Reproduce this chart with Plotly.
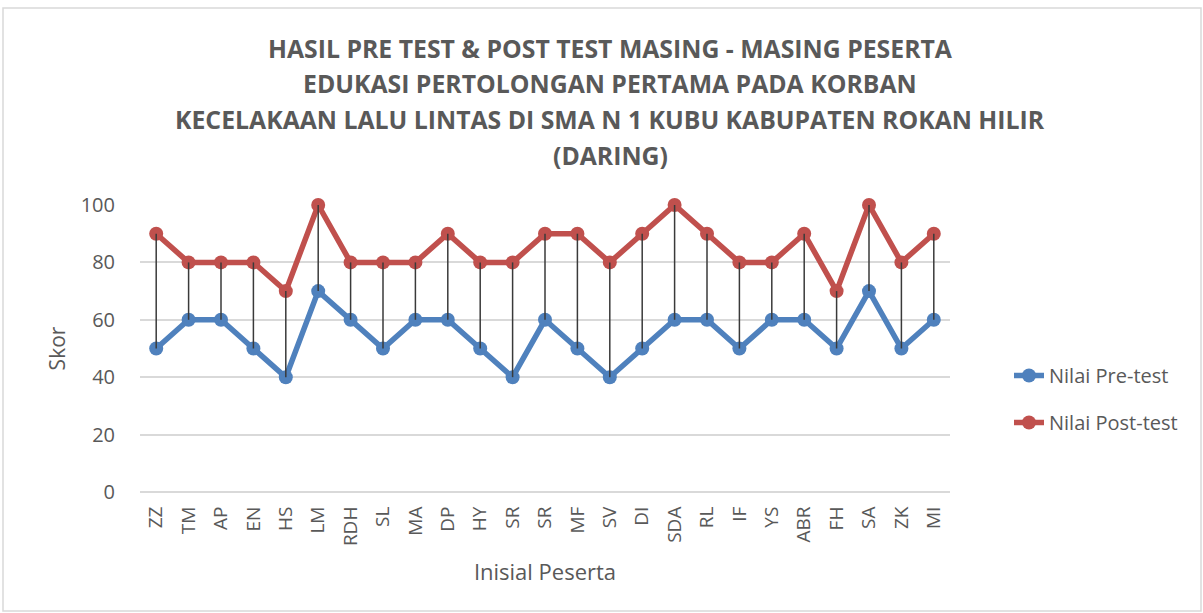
import plotly.graph_objects as go

categories = ["ZZ", "TM", "AP", "EN", "HS", "LM", "RDH", "SL", "MA", "DP", "HY", "SR", "SR",
              "MF", "SV", "DI", "SDA", "RL", "IF", "YS", "ABR", "FH", "SA", "ZK", "MI"]
pre_test = [50, 60, 60, 50, 40, 70, 60, 50, 60, 60, 50, 40, 60, 50, 40, 50, 60, 60, 50, 60, 60, 50, 70, 50, 60]
post_test = [90, 80, 80, 80, 70, 100, 80, 80, 80, 90, 80, 80, 90, 90, 80, 90, 100, 90, 80, 80, 90, 70, 100, 80, 90]
y_ticks = [0, 20, 40, 60, 80, 100]
title_lines = [
    "HASIL PRE TEST & POST TEST MASING - MASING PESERTA",
    "EDUKASI PERTOLONGAN PERTAMA PADA KORBAN",
    "KECELAKAAN LALU LINTAS DI SMA N 1 KUBU KABUPATEN ROKAN HILIR",
    "(DARING)",
]

x = list(range(len(categories)))
FONT = "Open Sans"
GRAY = "#595959"

fig = go.Figure()
fig.add_trace(go.Scatter(x=x, y=pre_test, mode="lines+markers", name="Nilai Pre-test",
                         legendgroup="pre", cliponaxis=False,
                         line=dict(color="#4F81BD", width=5.5),
                         marker=dict(color="#4F81BD", size=14)))
fig.add_trace(go.Scatter(x=x, y=post_test, mode="lines+markers", name="Nilai Post-test",
                         legendgroup="post", cliponaxis=False,
                         line=dict(color="#C0504D", width=5.5),
                         marker=dict(color="#C0504D", size=14)))

hx, hy = [], []
for i, (a, b) in enumerate(zip(pre_test, post_test)):
    hx += [i, i, None]
    hy += [a, b, None]
fig.add_trace(go.Scatter(x=hx, y=hy, mode="lines", showlegend=False, hoverinfo="skip",
                         cliponaxis=False, line=dict(color="#3a3a3a", width=1.5)))

L, R, T, B = 140, 253, 205, 121
W, H = 1203, 613
pw, ph = W - L - R, H - T - B

annotations = []
title_ys = [48, 83, 119, 155]
for txt, yy in zip(title_lines, title_ys):
    annotations.append(dict(text="<b>" + txt + "</b>", xref="paper", yref="paper",
                            x=(610 - L) / pw, y=(H - B - yy) / ph, xanchor="center", yanchor="middle",
                            showarrow=False, font=dict(family=FONT, size=24.8, color=GRAY)))

fig.update_layout(
    width=W, height=H,
    margin=dict(l=L, r=R, t=T, b=B),
    paper_bgcolor="white", plot_bgcolor="white",
    font=dict(family=FONT, color=GRAY),
    showlegend=True,
    legend=dict(x=(1009 - L) / pw, y=(H - B - 356) / ph, xanchor="left", yanchor="top",
                font=dict(family=FONT, size=20, color=GRAY), tracegroupgap=18,
                bgcolor="rgba(0,0,0,0)"),
    annotations=annotations,
    shapes=[dict(type="rect", xref="paper", yref="paper",
                 x0=(3 - L) / pw, x1=(1201 - L) / pw,
                 y0=(H - B - 611) / ph, y1=(H - B - 8) / ph,
                 line=dict(color="#D9D9D9", width=1.5), fillcolor="rgba(0,0,0,0)", layer="below")],
)
fig.update_xaxes(range=[-0.5, len(categories) - 0.5], tickmode="array", tickvals=x, ticktext=categories,
                 tickangle=-90, tickfont=dict(family=FONT, size=19, color=GRAY),
                 showgrid=False, zeroline=False, showline=False,
                 ticks="outside", ticklen=6, tickcolor="rgba(0,0,0,0)",
                 title=dict(text="Inisial Peserta", font=dict(family=FONT, size=22, color=GRAY), standoff=19))
fig.update_yaxes(range=[0, 100], tickvals=y_ticks, tickfont=dict(family=FONT, size=20, color=GRAY),
                 showgrid=True, gridcolor="#D9D9D9", gridwidth=1.5, zeroline=True, zerolinecolor="#D9D9D9",
                 zerolinewidth=1.5, showline=False,
                 ticks="outside", ticklen=20, tickcolor="rgba(0,0,0,0)",
                 title=dict(text="Skor", font=dict(family=FONT, size=21, color=GRAY), standoff=9))

fig.write_html("out.html", config={"displayModeBar": False},
               post_script="document.body.style.margin='0';")
